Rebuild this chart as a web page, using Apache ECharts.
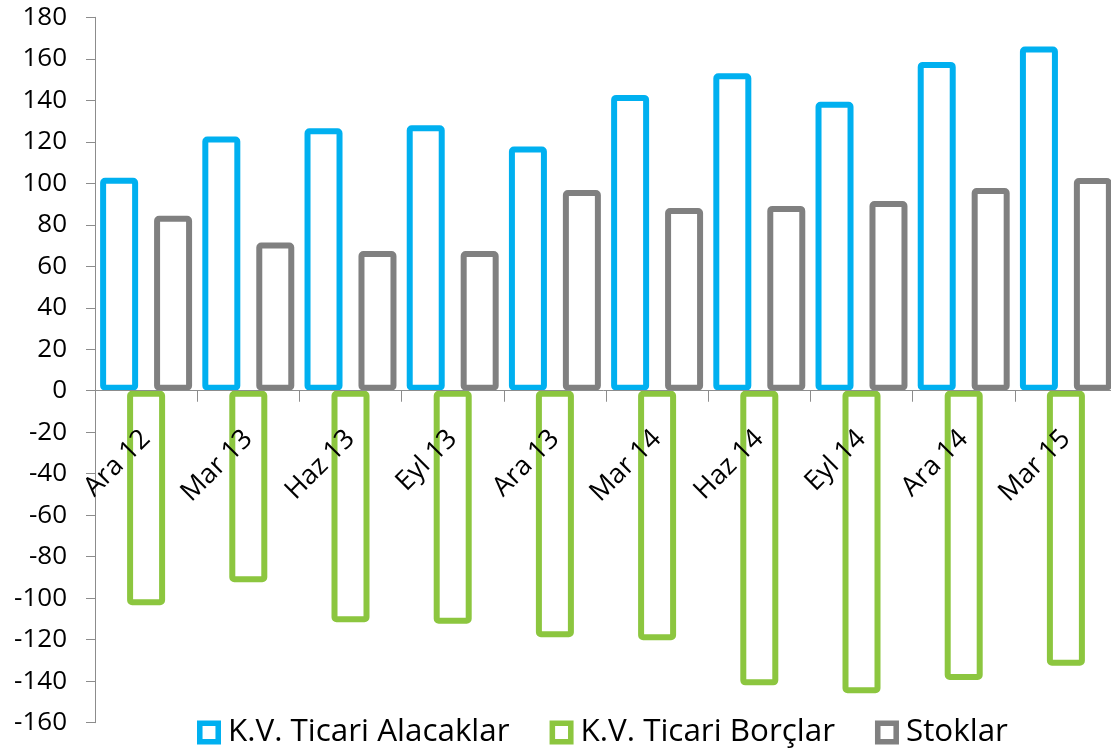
<!DOCTYPE html>
<html>
<head>
<meta charset="utf-8">
<script src="https://cdn.jsdelivr.net/npm/echarts@6/dist/echarts.min.js"></script>
<style>
	html,body{margin:0;padding:0;background:#fff;}
	#chart{width:1111px;height:751px;}
</style>
</head>
<body>
<div id="chart"></div>
<script>
//数据
var categories = ['Ara 12','Mar 13','Haz 13','Eyl 13','Ara 13','Mar 14','Haz 14','Eyl 14','Ara 14','Mar 15'];
var alacaklar = [102.7, 122.5, 126.5, 128, 117.7, 142.6, 153, 139.3, 158.5, 165.9];			//K.V. Ticari Alacaklar
var borclar = [-103.4, -92.3, -111.6, -112.3, -118.8, -120.3, -142, -145.8, -139.4, -132.5];	//K.V. Ticari Borçlar
var stoklar = [84.3, 71.4, 67.4, 67.4, 96.8, 88.1, 89.1, 91.5, 97.7, 102.5];					//Stoklar
var seriesNames = ['K.V. Ticari Alacaklar', 'K.V. Ticari Borçlar', 'Stoklar'];
var seriesColors = ['#00B0F0', '#8CC63F', '#808080'];

var fontName = '"Open Sans", "Noto Sans", sans-serif';
var axisColor = '#8c8c8c';

//坐标区位置
var gridTop = 17.3, gridBottom = 28.3, chartH = 751;
var yMin = -160, yMax = 180;
var gridH = chartH - gridTop - gridBottom;
var zeroOffset = -gridH * (0 - yMin) / (yMax - yMin);	//x轴移到0刻度

//空心方块图例
var hollowIcon = 'path://M0,0 H26 V26 H0 Z M6,6 V20 H20 V6 Z';

/**************************************柱子配置********************************************/
function barSeries(idx, data){
	return {
		name: seriesNames[idx],
		type: 'bar',
		data: data,
		barWidth: 38,
		barGap: '-29%',
		itemStyle: {
			color: 'rgba(255,255,255,0)',
			borderColor: seriesColors[idx],
			borderWidth: 6,
			borderRadius: 2
		},
		emphasis: {disabled: true}
	};
}

var legendData = [];
for(var i = 0; i < seriesNames.length; i++){
	legendData.push({
		name: seriesNames[i],
		icon: hollowIcon,
		itemStyle: {
			color: seriesColors[i],
			borderWidth: 0
		}
	});
}

var option = {
	animation: false,
	backgroundColor: '#fff',
	textStyle: {fontFamily: fontName},
	grid: {
		left: 95,
		right: -6,
		top: gridTop,
		bottom: gridBottom,
		containLabel: false,
		outerBoundsMode: 'none'
	},
	legend: {
		data: legendData,
		left: 197,
		top: 717,
		padding: 0,
		itemGap: 40,
		itemWidth: 24,
		itemHeight: 26,
		selectedMode: false,
		textStyle: {
			fontSize: 31.4,
			color: '#000',
			fontFamily: fontName,
			padding: [0, 0, 0, 2]
		}
	},
	xAxis: {
		type: 'category',
		data: categories,
		z: 10,
		offset: zeroOffset,
		axisLine: {onZero: false, lineStyle: {color: axisColor, width: 1}},
		axisTick: {show: true, length: 11, lineStyle: {color: axisColor}},
		axisLabel: {
			rotate: 45,
			margin: 44,
			fontSize: 27,
			color: '#000',
			fontFamily: fontName
		}
	},
	yAxis: {
		type: 'value',
		min: yMin,
		max: yMax,
		interval: 20,
		splitLine: {show: false},
		axisLine: {show: true, lineStyle: {color: axisColor, width: 1}},
		axisTick: {show: true, length: 9, lineStyle: {color: axisColor}},
		axisLabel: {
			margin: 28,
			fontSize: 26,
			color: '#000',
			fontFamily: fontName
		}
	},
	series: [
		barSeries(0, alacaklar),
		barSeries(1, borclar),
		barSeries(2, stoklar)
	]
};

var chart = echarts.init(document.getElementById('chart'));
chart.setOption(option);
</script>
</body>
</html>
